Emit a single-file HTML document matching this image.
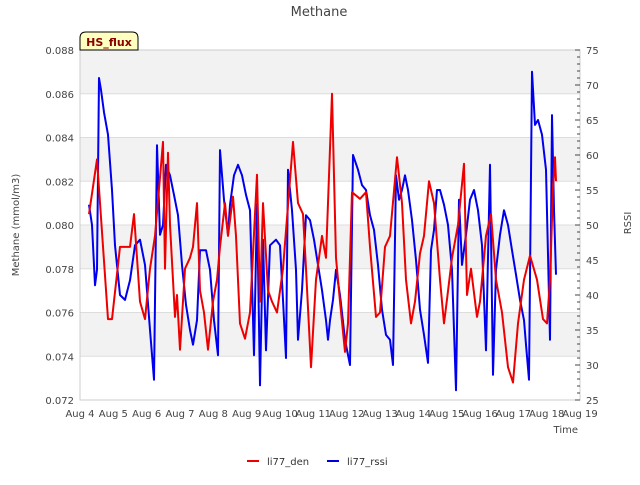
<!DOCTYPE html>
<html><head><meta charset="utf-8"><style>
body{margin:0;background:#fff;font-family:"Liberation Sans","DejaVu Sans",sans-serif;}
svg text{font-family:"DejaVu Sans","Liberation Sans",sans-serif;}
</style></head><body>
<svg id="chart" width="640" height="480" viewBox="0 0 640 480" xmlns="http://www.w3.org/2000/svg">
<text x="319" y="16" text-anchor="middle" font-size="13" fill="#444">Methane</text>
<g id="bands"></g>
<g id="axes"></g>
<g id="series"></g>
<g>
<path d="M80,50 L80,38 Q80,32 86,32 L132,32 Q138,32 138,38 L138,50 Z" fill="#ffffc0" stroke="#000" stroke-width="1"/>
<text x="109" y="46" text-anchor="middle" font-size="11" font-weight="bold" fill="#8b0000">HS_flux</text>
</g>
<text transform="translate(19,225) rotate(-90)" text-anchor="middle" font-size="10" fill="#444">Methane (mmol/m3)</text>
<text transform="translate(631,223) rotate(-90)" text-anchor="middle" font-size="10" fill="#444">RSSI</text>
<text x="578" y="433" text-anchor="end" font-size="10" fill="#444">Time</text>
<g>
<g><line x1="247" y1="461" x2="259" y2="461" stroke="#e00" stroke-width="2"/><text x="267" y="465" font-size="10" fill="#333">li77_den</text></g>
<g><line x1="327" y1="461" x2="339" y2="461" stroke="#00d" stroke-width="2"/><text x="347" y="465" font-size="10" fill="#333">li77_rssi</text></g>
</g>
</svg>
<script>
const xTickLabels=["Aug 4","Aug 5","Aug 6","Aug 7","Aug 8","Aug 9","Aug 10","Aug 11","Aug 12","Aug 13","Aug 14","Aug 15","Aug 16","Aug 17","Aug 18","Aug 19"];
const yTicks=[0.072,0.074,0.076,0.078,0.080,0.082,0.084,0.086,0.088];
const y2Ticks=[25,30,35,40,45,50,55,60,65,70,75];
const denDays=[.27,.51,.84,.96,1.2,1.5,1.62,1.8,1.95,2.1,2.25,2.49,2.55,2.64,2.7,2.85,2.91,3.0,3.15,3.3,3.39,3.51,3.6,3.72,3.84,3.99,4.11,4.2,4.35,4.44,4.59,4.68,4.8,4.95,5.1,5.31,5.4,5.49,5.64,5.76,5.91,6.09,6.39,6.54,6.69,6.78,6.93,7.08,7.26,7.38,7.56,7.68,7.8,7.95,8.04,8.16,8.4,8.58,8.7,8.88,9.0,9.15,9.3,9.51,9.66,9.78,9.93,10.05,10.2,10.32,10.47,10.62,10.8,10.92,11.01,11.16,11.34,11.52,11.61,11.73,11.91,12.0,12.18,12.33,12.48,12.66,12.84,12.99,13.14,13.32,13.5,13.71,13.89,14.01,14.1,14.19,14.25,14.28];
const denValues=[.0805,.083,.0757,.0757,.079,.079,.0805,.0765,.0757,.078,.0795,.0838,.078,.0833,.080,.0758,.0768,.0743,.078,.0785,.079,.081,.077,.076,.0743,.0765,.0775,.079,.081,.0795,.0813,.0795,.0755,.0748,.076,.0823,.0765,.081,.077,.0765,.076,.078,.0838,.081,.0805,.078,.0735,.0775,.0795,.0785,.086,.0785,.0765,.0742,.0755,.0815,.0812,.0815,.079,.0758,.076,.079,.0795,.0831,.081,.0775,.0755,.0765,.0787,.0795,.082,.081,.0775,.0755,.0766,.0785,.080,.0828,.0768,.078,.0758,.0765,.0795,.0805,.0775,.076,.0735,.0728,.0755,.0775,.0786,.0775,.0757,.0755,.0775,.0817,.0831,.082];
const rssiDays=[.27,.36,.45,.51,.57,.63,.72,.84,.96,1.05,1.2,1.35,1.5,1.65,1.8,1.95,2.1,2.22,2.31,2.4,2.49,2.58,2.7,2.82,2.94,3.06,3.18,3.3,3.39,3.51,3.6,3.78,3.9,4.02,4.14,4.2,4.32,4.44,4.5,4.62,4.74,4.86,4.98,5.1,5.22,5.31,5.4,5.49,5.58,5.7,5.88,6.0,6.09,6.18,6.24,6.36,6.48,6.54,6.66,6.78,6.9,7.02,7.14,7.26,7.38,7.44,7.5,7.59,7.68,7.8,7.95,8.1,8.19,8.34,8.46,8.58,8.7,8.82,8.94,9.06,9.18,9.3,9.39,9.48,9.57,9.66,9.75,9.84,9.96,10.08,10.2,10.32,10.44,10.53,10.62,10.71,10.8,10.92,11.04,11.16,11.28,11.37,11.46,11.58,11.7,11.82,11.94,12.06,12.18,12.3,12.39,12.48,12.6,12.72,12.84,12.96,13.08,13.2,13.32,13.38,13.47,13.56,13.65,13.74,13.86,13.98,14.1,14.16,14.22,14.28];
const rssiValues=[52.9,50,41.4,43.6,71,69.3,66.1,62.9,55,47.1,40,39.3,42.1,47.1,47.9,44.3,35,27.9,61.4,48.6,50,58.6,57.1,54.3,51.4,44.3,38.6,35,32.9,36.4,46.4,46.4,43.6,36.4,31.4,60.7,53.6,48.6,52.9,57.1,58.6,57.1,54.3,52.1,31.4,53,27.1,47.9,32.1,47.1,47.9,47.1,39.3,31,57.9,52.1,43.6,33.6,40.7,51.4,50.7,47.9,44.3,40.7,36.4,33.6,36.4,39.3,43.6,40,33.6,30,60,57.9,55.7,55,51.4,49.3,44.3,37.9,34.3,33.6,30,57.1,53.6,55,57.1,55,50.7,45,37.9,34.3,30.3,46.4,49.3,55,55,52.9,50,43.6,26.4,53.6,44.3,48.6,53.6,55,52.1,47.1,32.1,58.6,28.6,43.6,48.6,52.1,50,46.4,42.9,39.3,36.4,32.9,27.9,71.9,64.3,65,62.9,57.9,33.6,65.7,52.1,42.9];

const L=80,R=580,T=50,B=400,NS="http://www.w3.org/2000/svg";
const xs=d=>L+d*(R-L)/15;
const ys=v=>B-(v-0.072)/(0.016)*(B-T);
const ys2=v=>B-(v-25)/50*(B-T);
function mk(tag,attrs,parent){const e=document.createElementNS(NS,tag);for(const k in attrs)e.setAttribute(k,attrs[k]);parent.appendChild(e);return e;}
const bands=document.getElementById('bands'),axes=document.getElementById('axes'),series=document.getElementById('series');
for(let i=0;i<yTicks.length-1;i++){
  const y1=ys(yTicks[i+1]),y0=ys(yTicks[i]);
  const r=mk('rect',{x:L,y:y1,width:R-L,height:y0-y1,fill:(i%2==1)?'#f2f2f2':'#fff'},bands);
  
  
}
yTicks.forEach(v=>{
  const l=mk('line',{x1:L,x2:R,y1:ys(v),y2:ys(v),stroke:'#ddd','stroke-width':1},bands);
  
  
  const t=mk('text',{x:L-6,y:ys(v)+4,'text-anchor':'end','font-size':10,fill:'#444'},axes);
  
  
  t.textContent=v.toFixed(3);
});
mk('rect',{x:L,y:T,width:R-L,height:B-T,fill:'none',stroke:'#ccc'},axes);
for(let v=25;v<=75;v++){
  const len=(v%5==0)?5:3;
  mk('line',{x1:R,x2:R-len,y1:ys2(v),y2:ys2(v),stroke:'#444','stroke-width':1},axes);
}
y2Ticks.forEach(v=>{
  const t=mk('text',{x:R+6,y:ys2(v)+4,'font-size':10,fill:'#444'},axes);
  
  
  t.textContent=v;
});
xTickLabels.forEach((s,i)=>{
  const t=mk('text',{x:xs(i),y:417,'text-anchor':'middle','font-size':10,fill:'#444'},axes);
  
  
  t.textContent=s;
});
const pd=denDays.map((d,i)=>xs(d).toFixed(1)+','+ys(denValues[i]).toFixed(1)).join(' ');
const pr=rssiDays.map((d,i)=>xs(d).toFixed(1)+','+ys2(rssiValues[i]).toFixed(1)).join(' ');
const lr=mk('polyline',{points:pr,fill:'none',stroke:'#0000ee','stroke-width':2,'stroke-linejoin':'round'},series);


const ld=mk('polyline',{points:pd,fill:'none',stroke:'#ee0000','stroke-width':2,'stroke-linejoin':'round'},series);


</script>
</body></html>
